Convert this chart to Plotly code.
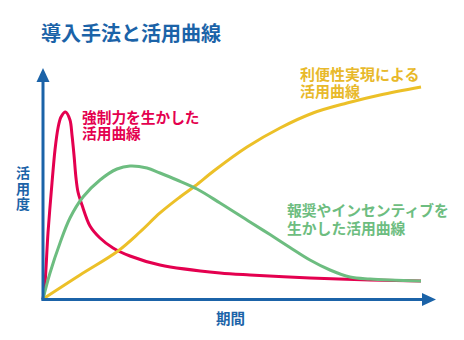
import plotly.graph_objects as go

# ---------------- data (period 0-100, usage 0-100) ----------------
red_t = [0, 0.53, 1.32, 2.38, 3.17, 3.97, 4.76, 5.95, 7.14, 7.67, 8.20, 8.73, 9.26, 10.32, 12.43, 15.08, 18.52, 23.02, 30.95, 46.83, 54.76, 70.63, 86.51, 100]
red_v = [0, 7.55, 31.13, 54.72, 70.28, 80.66, 85.85, 88.21, 84.43, 77.36, 67.92, 57.08, 50.47, 44.34, 34.43, 28.77, 24.06, 20.28, 16.04, 12.26, 11.32, 9.91, 8.96, 8.49]

green_t = [0, 1.85, 4.50, 7.14, 10.58, 15.08, 19.58, 23.02, 27.51, 30.95, 35.45, 40.74, 46.83, 54.76, 60.05, 65.34, 70.63, 75.93, 81.22, 86.51, 100]
green_v = [0, 12.26, 26.42, 38.2, 48.11, 56.13, 61.32, 62.74, 61.79, 59.43, 56.13, 51.89, 45.28, 36.32, 30.4, 24.3, 18.40, 13.68, 10.38, 9.43, 8.49]

yellow_t = [0, 9.79, 19.84, 25.66, 30.95, 36.24, 40.21, 45.50, 53.97, 62.70, 71.43, 80.42, 89.15, 100]
yellow_v = [0, 11.32, 22.64, 31.60, 40.57, 48.11, 53.30, 60.85, 71.70, 80.66, 87.74, 92.45, 96.23, 100]

title_text = "導入手法と活用曲線"
yellow_label = ["利便性実現による", "活用曲線"]
red_label = ["強制力を生かした", "活用曲線"]
green_label = ["報奨やインセンティブを", "生かした活用曲線"]
y_title = "活用度"
x_title = "期間"

# ---------------- styling ----------------
W, H = 464, 340
X0, Y0 = 43, 299          # origin in pixels
SX, SY = 3.78, 2.12       # pixels per data unit
BLUE = "#1b63a8"
RED = "#e4004f"
GREEN = "#6dbd80"
YELLOW = "#ecc028"
YELLOW_TXT = "#e8b92a"
FONT = "Noto Sans CJK JP"

def t_of(px):
    return (px - X0) / SX

def v_of(py):
    return (Y0 - py) / SY

def px2paper(px, py):
    return px / W, 1 - py / H

fig = go.Figure()
for t, v, c, sm in [(red_t, red_v, RED, 0.9), (yellow_t, yellow_v, YELLOW, 1.0), (green_t, green_v, GREEN, 1.0)]:
    fig.add_trace(go.Scatter(x=t, y=v, mode="lines",
                             line=dict(color=c, width=3, shape="spline", smoothing=sm),
                             hoverinfo="skip", showlegend=False))

shapes = [
    # y axis
    dict(type="line", xref="x", yref="y", x0=0, y0=v_of(300.5), x1=0, y1=v_of(81),
         line=dict(color=BLUE, width=3), layer="above"),
    dict(type="path", xref="x", yref="y",
         path=f"M {t_of(36.5)},{v_of(82)} L {t_of(43)},{v_of(68)} L {t_of(49.5)},{v_of(82)} Z",
         fillcolor=BLUE, line=dict(width=0), layer="above"),
    # x axis
    dict(type="line", xref="x", yref="y", x0=t_of(41.5), y0=v_of(299.5), x1=t_of(423), y1=v_of(299.5),
         line=dict(color=BLUE, width=3), layer="above"),
    dict(type="path", xref="x", yref="y",
         path=f"M {t_of(422)},{v_of(293)} L {t_of(436)},{v_of(299.5)} L {t_of(422)},{v_of(306)} Z",
         fillcolor=BLUE, line=dict(width=0), layer="above"),
]

ann = []
def text(s, px, py, color, size, xanchor="left"):
    x, y = px2paper(px, py)
    ann.append(dict(text=f"<b>{s}</b>", x=x, y=y, xref="paper", yref="paper",
                    xanchor=xanchor, yanchor="middle", showarrow=False,
                    font=dict(family=FONT, size=size, color=color), borderpad=0))

text(title_text, 40, 32, BLUE, 20)
text(yellow_label[0], 299, 73, YELLOW_TXT, 15)
text(yellow_label[1], 299, 91, YELLOW_TXT, 15)
text(red_label[0], 81, 116, RED, 14.7)
text(red_label[1], 81, 133, RED, 14.7)
text(green_label[0], 286, 209, GREEN, 14.8)
text(green_label[1], 286, 227, GREEN, 14.8)
for i, ch in enumerate(y_title):
    text(ch, 23, 172 + i * 15.5, BLUE, 14, xanchor="center")
text(x_title, 230.5, 317, BLUE, 14.5, xanchor="center")

fig.update_layout(
    width=W, height=H, margin=dict(l=0, r=0, t=0, b=0),
    paper_bgcolor="white", plot_bgcolor="white",
    xaxis=dict(range=[t_of(0), t_of(W)], visible=False, fixedrange=True),
    yaxis=dict(range=[v_of(H), v_of(0)], visible=False, fixedrange=True),
    shapes=shapes, annotations=ann, showlegend=False,
)
fig.write_html("out.html", config={"displayModeBar": False})
